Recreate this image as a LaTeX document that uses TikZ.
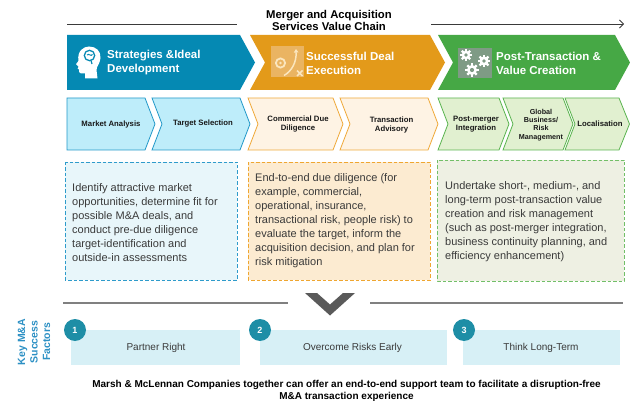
\documentclass[tikz,border=0pt]{standalone}
\usepackage{fontspec}
\setmainfont{Liberation Sans}
\usetikzlibrary{arrows.meta}
\definecolor{blueC}{HTML}{0589B3}
\definecolor{orangeC}{HTML}{E39A1A}
\definecolor{greenC}{HTML}{46A845}
\definecolor{bFill}{HTML}{BEEDFA}
\definecolor{bLine}{HTML}{2399C9}
\definecolor{oFill}{HTML}{FEF3E4}
\definecolor{oLine}{HTML}{EFA93A}
\definecolor{gFill}{HTML}{E1F0D0}
\definecolor{gLine}{HTML}{5BB450}
\definecolor{bBox}{HTML}{E8F6FA}
\definecolor{bDash}{HTML}{2E9BCB}
\definecolor{oBox}{HTML}{FCEBD1}
\definecolor{oDash}{HTML}{EFA630}
\definecolor{gBox}{HTML}{EEF0E3}
\definecolor{gDash}{HTML}{72BF68}
\definecolor{facFill}{HTML}{D7F0F6}
\definecolor{facCirc}{HTML}{1E8EA6}
\definecolor{keyBlue}{HTML}{2C90C4}
\definecolor{vGray}{HTML}{5A5A5A}
\definecolor{lGray}{HTML}{808080}
\definecolor{tGray}{HTML}{3A3A3A}
\definecolor{icoOr}{HTML}{EAB462}
\definecolor{icoCream}{HTML}{FBE6BE}
\definecolor{icoGr}{HTML}{7F9B85}
\newcommand{\gearat}[3]{%
  \fill[white] (#1,#2) circle (#3);
  \foreach \ga in {0,45,90,135}{%
    \fill[white, rotate around={\ga:(#1,#2)}] (#1-1.1,#2-#3-1.7) rectangle (#1+1.1,#2+#3+1.7);}
  \fill[icoGr] (#1,#2) circle (#3*0.42);
}
\begin{document}
\begin{tikzpicture}[x=1pt,y=-1pt,
  chevtitle/.style={text=white, font=\fontsize{11.5}{14}\selectfont\bfseries, align=left, anchor=west, inner sep=0pt},
  sublabel/.style={font=\fontsize{7.75}{9}\selectfont\bfseries, align=center, inner sep=0pt, text=black!90},
  bodytext/.style={font=\fontsize{11}{14}\selectfont, align=left, anchor=west, inner sep=0pt, text=tGray},
  dashbox/.style={line width=0.9pt, dash pattern=on 3.5pt off 2pt},
  factext/.style={font=\fontsize{10}{12}\selectfont, inner sep=0pt, text=tGray},
  facnum/.style={circle, fill=facCirc, minimum size=22pt, inner sep=0pt, text=white, font=\fontsize{9}{10}\selectfont\bfseries},
  subline/.style={line width=0.8pt}
]
\useasboundingbox (0,0) rectangle (630,401);

% ---------- title ----------
\node[font=\fontsize{11.3}{12}\selectfont\bfseries, align=center, inner sep=0pt] (title) at (329,20) {Merger and Acquisition\\Services Value Chain};
\coordinate (tl1) at (67,24);
\coordinate (tl2) at (237,24);
\coordinate (tr1) at (431,24);
\coordinate (tr2) at (624,24);
\draw[tGray, line width=0.8pt] (tl1) -- (tl2);
\draw[tGray, line width=0.8pt, -{Straight Barb[length=4pt,width=8pt]}] (tr1) -- (tr2);

% ---------- row 1 chevrons ----------
\fill[blueC] (67,35) -- (240,35) -- (255,62.5) -- (240,90) -- (67,90) -- cycle;
\fill[orangeC] (250,35) -- (430,35) -- (445,62.5) -- (430,90) -- (250,90) -- (265,62.5) -- cycle;
\fill[greenC] (438,35) -- (615,35) -- (630,62.5) -- (615,90) -- (438,90) -- (453,62.5) -- cycle;

% head icon
\fill[white] (85,78.5) -- (85,73.5) -- (81,73.5) .. controls (78.8,73.5) and (79,71) .. (79,69.5)
  -- (77.6,68.6) -- (78.6,66.6) -- (76,64.2) -- (78.4,61)
  .. controls (77,51) and (83.5,46.5) .. (89,46.5)
  .. controls (96,46.5) and (101,51) .. (100.5,58)
  .. controls (100,64) and (96.5,66) .. (96.5,70) -- (97.5,78.5) -- cycle;
\draw[blueC, line width=1.3pt] (89.5,55.5) circle (5.2);
\draw[blueC, line width=1pt] (87,55) .. controls (89,53) and (91,57) .. (92.5,54.5);
\draw[blueC, line width=1.2pt] (91,60.5) -- (92,64);

% strategy icon
\fill[icoOr] (271,46) rectangle (304,77);
\draw[icoCream, line width=1.8pt] (280.5,63) circle (4.6);
\fill[icoCream] (280.5,63) circle (1.3);
\draw[icoCream, line width=1.5pt, -{Triangle[length=3.5pt,width=4.5pt]}] (284,75.5) .. controls (292,71) and (296.5,62) .. (296,49);
\draw[icoCream, line width=1.6pt] (297,70.5) -- (302.5,76) (302.5,70.5) -- (297,76);

% gears icon
\fill[icoGr] (458,48) rectangle (492,78);
\gearat{466}{55}{4.3}
\gearat{484}{61}{4.6}
\gearat{472}{70}{5}

\node[chevtitle] (t1) at (107,63) {Strategies \&Ideal\\Development};
\node[chevtitle] (t2) at (306,63) {Successful Deal\\Execution};
\node[chevtitle] (t3) at (496,63) {Post-Transaction \&\\Value Creation};

% ---------- row 2 chevrons ----------
\filldraw[fill=bFill, draw=bLine, subline] (67,98) -- (145,98) -- (155,124) -- (145,150) -- (67,150) -- cycle;
\filldraw[fill=bFill, draw=bLine, subline] (152,98) -- (240,98) -- (250,124) -- (240,150) -- (152,150) -- (162,124) -- cycle;
\filldraw[fill=oFill, draw=oLine, subline] (248,98) -- (333,98) -- (343,124) -- (333,150) -- (248,150) -- (258,124) -- cycle;
\filldraw[fill=oFill, draw=oLine, subline] (340,98) -- (428,98) -- (438,124) -- (428,150) -- (340,150) -- (350,124) -- cycle;
\filldraw[fill=gFill, draw=gLine, subline] (438,98) -- (499,98) -- (509,124) -- (499,150) -- (438,150) -- (448,124) -- cycle;
\filldraw[fill=gFill, draw=gLine, subline] (503,98) -- (563,98) -- (573,124) -- (563,150) -- (503,150) -- (513,124) -- cycle;
\filldraw[fill=gFill, draw=gLine, subline] (565,98) -- (619,98) -- (629.5,124) -- (619,150) -- (565,150) -- (575,124) -- cycle;

\node[sublabel] (s1) at (111,124) {Market Analysis};
\node[sublabel] (s2) at (203,124) {Target Selection};
\node[sublabel] (s3) at (298,124.5) {Commercial Due\\Diligence};
\node[sublabel] (s4) at (391.5,124.5) {Transaction\\Advisory};
\node[sublabel] (s5) at (476,124.5) {Post-merger\\Integration};
\node[sublabel, font=\fontsize{7.2}{8.2}\selectfont\bfseries] (s6) at (541,125) {Global\\Business/\\Risk\\Management};
\node[sublabel] (s7) at (600,124) {Localisation};

% ---------- row 3 dashed boxes ----------
\filldraw[fill=bBox, draw=bDash, dashbox] (65,162) rectangle (237,280);
\filldraw[fill=oBox, draw=oDash, dashbox] (248,162) rectangle (430,280);
\filldraw[fill=gBox, draw=gDash, dashbox] (437,160) rectangle (624,281);

\node[bodytext] (b1) at (72,222.5) {Identify attractive market\\opportunities, determine fit for\\possible M\&A deals, and\\conduct pre-due diligence\\target-identification and\\outside-in assessments};
\node[bodytext] (b2) at (255,221) {End-to-end due diligence (for\\example, commercial,\\operational, insurance,\\transactional risk, people risk) to\\evaluate the target, inform the\\acquisition decision, and plan for\\risk mitigation};
\node[bodytext] (b3) at (445,221.5) {Undertake short-, medium-, and\\long-term post-transaction value\\creation and risk management\\(such as post-merger integration,\\business continuity planning, and\\efficiency enhancement)};

% ---------- divider with V ----------
\coordinate (dl1) at (63,303);
\coordinate (dl2) at (288,303);
\coordinate (dr1) at (370,303);
\coordinate (dr2) at (623,303);
\draw[lGray, line width=1.1pt] (dl1) -- (dl2);
\draw[lGray, line width=1.1pt] (dr1) -- (dr2);
\fill[vGray] (305,293) -- (317,293) -- (330,304.5) -- (343,293) -- (355,293) -- (330,315.5) -- cycle;

% ---------- success factors ----------
\node[rotate=90, font=\fontsize{10.5}{12.5}\selectfont\bfseries, text=keyBlue, align=center, inner sep=0pt] (key) at (34,342) {Key M\&A\\Success\\Factors};

\fill[facFill] (71,330) rectangle (240,365);
\fill[facFill] (260,330) rectangle (447,365);
\fill[facFill] (463,330) rectangle (620,365);
\node[facnum] (n1) at (75,330) {1};
\node[facnum] (n2) at (260,330) {2};
\node[facnum] (n3) at (464,330) {3};
\node[factext] (f1) at (156,347.5) {Partner Right};
\node[factext] (f2) at (352.5,347.5) {Overcome Risks Early};
\node[factext] (f3) at (541,347.5) {Think Long-Term};

% ---------- footer ----------
\node[font=\fontsize{10}{12}\selectfont\bfseries, align=center, inner sep=0pt] (foot) at (346.5,391) {Marsh \& McLennan Companies together can offer an end-to-end support team to facilitate a disruption-free\\M\&A transaction experience};
\end{tikzpicture}
\end{document}
